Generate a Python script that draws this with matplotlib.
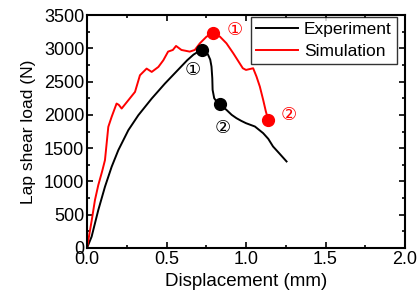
import numpy as np
from matplotlib import pyplot as plt
from matplotlib.ticker import MultipleLocator

# experiment curve (displacement mm, load N)
exp_x = [0.0, 0.029, 0.071, 0.113, 0.155, 0.197, 0.26, 0.323, 0.407, 0.49, 0.574, 0.63, 0.67, 0.70, 0.724,
         0.745, 0.762, 0.775, 0.783, 0.788, 0.79, 0.80, 0.815, 0.835, 0.877, 0.91, 0.94, 0.97, 1.0, 1.056,
         1.108, 1.14, 1.17, 1.21, 1.255]
exp_y = [0, 170, 570, 920, 1220, 1470, 1770, 1995, 2245, 2470, 2680, 2820, 2905, 2950, 2975,
         2960, 2900, 2830, 2725, 2550, 2375, 2250, 2200, 2160, 2075, 2000, 1950, 1910, 1875, 1825,
         1725, 1640, 1525, 1420, 1300]

# simulation curve
sim_x = [0.0, 0.03, 0.05, 0.071, 0.095, 0.113, 0.134, 0.155, 0.186, 0.2, 0.218, 0.26, 0.302, 0.333,
         0.375, 0.407, 0.449, 0.48, 0.51, 0.54, 0.56, 0.594, 0.646, 0.678, 0.71, 0.752, 0.793,
         0.836, 0.877, 0.92, 0.98, 1.0, 1.045, 1.066, 1.087, 1.108, 1.125, 1.14]
sim_y = [0, 420, 720, 945, 1150, 1320, 1820, 1970, 2170, 2150, 2095, 2220, 2345, 2595,
         2695, 2645, 2720, 2820, 2950, 2975, 3035, 2975, 2950, 2975, 3075, 3175, 3225,
         3175, 3075, 2925, 2700, 2675, 2700, 2575, 2425, 2225, 2050, 1925]

# marked points
exp_pts_x = [0.724, 0.835]
exp_pts_y = [2975, 2160]
sim_pts_x = [0.793, 1.14]
sim_pts_y = [3225, 1925]

plt.rcParams['font.family'] = ['Liberation Sans', 'DejaVu Sans']

fig = plt.figure(figsize=(4.19, 3.05), dpi=100)
ax = fig.add_axes([87 / 419, 57 / 305, 318 / 419, 233 / 305])

ax.plot(exp_x, exp_y, color='black', lw=1.4, label='Experiment')
ax.plot(sim_x, sim_y, color='red', lw=1.4, label='Simulation')
ax.plot(exp_pts_x, exp_pts_y, 'o', color='black', ms=8.5)
ax.plot(sim_pts_x, sim_pts_y, 'o', color='red', ms=8.5)
ax.plot([1.85], [0], '.', color='red', ms=2)

ax.text(0.667, 2670, '①', color='black', fontsize=13, ha='center', va='center', family=['DejaVu Sans'])
ax.text(0.853, 1810, '②', color='black', fontsize=13, ha='center', va='center', family=['DejaVu Sans'])
ax.text(0.931, 3280, '①', color='red', fontsize=13, ha='center', va='center', family=['DejaVu Sans'])
ax.text(1.27, 1995, '②', color='red', fontsize=13, ha='center', va='center', family=['DejaVu Sans'])

ax.set_xlim(0, 2.0)
ax.set_ylim(0, 3500)
ax.xaxis.set_major_locator(MultipleLocator(0.5))
ax.xaxis.set_minor_locator(MultipleLocator(0.25))
ax.yaxis.set_major_locator(MultipleLocator(500))
ax.yaxis.set_minor_locator(MultipleLocator(250))
ax.xaxis.set_major_formatter(plt.FormatStrFormatter('%.1f'))
ax.tick_params(which='both', direction='in', top=True, right=True, labelsize=13, width=1.2)
ax.tick_params(which='major', length=4, pad=2)
ax.tick_params(which='minor', length=2.5)
for s in ax.spines.values():
    s.set_linewidth(1.5)

ax.set_xlabel('Displacement (mm)', fontsize=13.5)
ax.set_ylabel('Lap shear load (N)', fontsize=12.5, labelpad=6)

leg = ax.legend(loc='upper right', bbox_to_anchor=(0.975, 0.991), fontsize=12.5, fancybox=False,
                edgecolor='black', handlelength=2.4, borderpad=0.3, labelspacing=0.35,
                borderaxespad=0, handletextpad=0.35)
leg.get_frame().set_linewidth(1.0)

plt.savefig('out.png', dpi=100)
